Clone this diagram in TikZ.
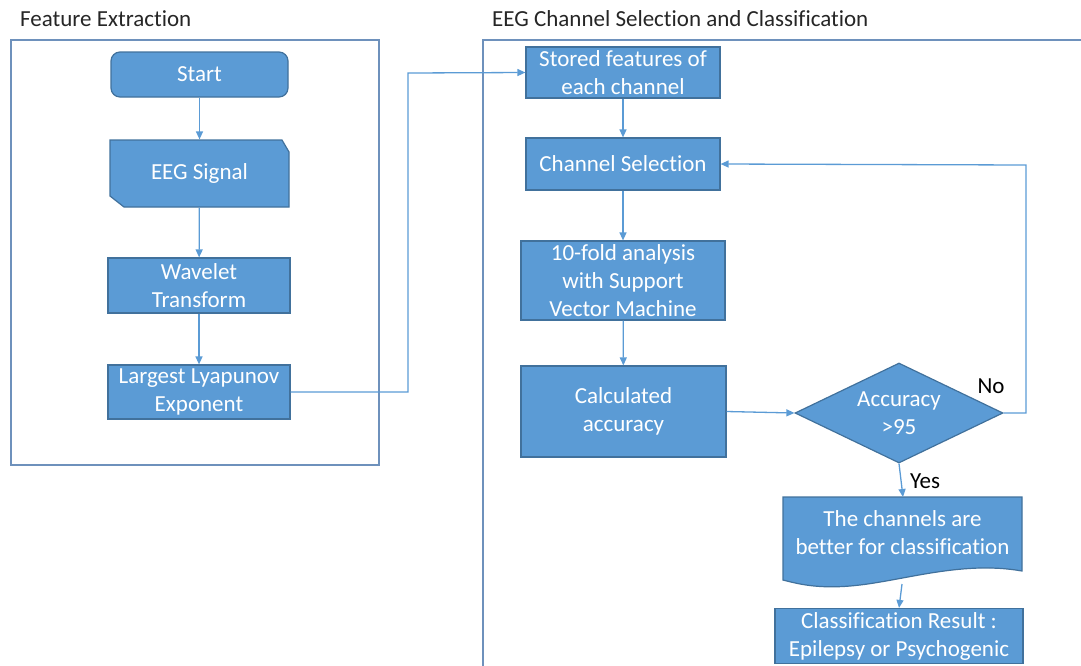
\documentclass[tikz,border=0pt]{standalone}
\usepackage{fontspec}
\setmainfont[Ligatures={NoCommon,NoRare}]{Carlito}
\usetikzlibrary{arrows.meta,shapes.geometric}
\definecolor{boxfill}{HTML}{5B9BD5}
\definecolor{boxline}{HTML}{41719C}
\definecolor{conn}{HTML}{5B9BD5}
\definecolor{panel}{RGB}{110,145,188}
\tikzset{
  box/.style={draw=boxline, fill=boxfill, line width=1.2pt, text=white, align=center, inner sep=0pt,
    font=\fontsize{23}{28}\selectfont},
  conn/.style={draw=conn, line width=1.3pt},
  arr/.style={conn, -{Triangle[length=8pt,width=7pt]}},
  lbl/.style={text=black, font=\fontsize{23}{26}\selectfont, inner sep=0pt},
  title/.style={text=black!85, font=\fontsize{23}{26}\selectfont, inner sep=0pt, anchor=west},
}
\begin{document}
\begin{tikzpicture}[x=1pt,y=-1pt]
\useasboundingbox (0,0) rectangle (1081,665);
% panels
\draw[panel, line width=1.2pt] (11,40) rectangle (379,465);
\draw[panel, line width=1.2pt] (1090,40) -- (483,40) -- (483,675);
\node[title] (t1) at (20,19) {Feature Extraction};
\node[title] (t2) at (492,19) {EEG Channel Selection and Classification};
% left nodes
\node[box, rounded corners=9pt, minimum width=177pt, minimum height=45pt] (start) at (199.5,74.5) {Start};
\path[box] (110,140) -- (282,140) -- (289,152) -- (289,207) -- (124,207) -- (110,196) -- cycle;
\node[box, draw=none, fill=none, minimum width=179pt, minimum height=67pt] (eeg) at (199.5,173.5) {EEG Signal};
\node[box, minimum width=182pt, minimum height=55pt] (wave) at (199,285.5) {Wavelet\\Transform};
\node[box, minimum width=182pt, minimum height=54pt] (lle) at (199,392) {Largest Lyapunov\\Exponent};
% right nodes
\node[box, minimum width=194pt, minimum height=51pt] (stored) at (623,72.5) {Stored features of\\each channel};
\node[box, minimum width=194pt, minimum height=52pt] (chsel) at (623,164) {Channel Selection};
\node[box, minimum width=204pt, minimum height=79pt] (svm) at (623,280.5) {10-fold analysis\\with Support\\Vector Machine};
\node[box, minimum width=205pt, minimum height=91pt] (calc) at (623.5,411.5) {Calculated\\accuracy};
\node[box, diamond, aspect=2.08, minimum width=208pt, minimum height=100pt] (acc) at (899,413) {Accuracy\\>95};
% document shape
\path[box] (783,497) -- (1022,497) -- (1022,571)
  .. controls (960,560) and (900,582) .. (850,586)
  .. controls (815,589) and (795,583) .. (783,580) -- cycle;
\node[box, draw=none, fill=none] (doc) at (902.5,533) {The channels are\\better for classification};
\coordinate (docbot) at (902,584);
\coordinate (doctop) at (903,497);
\node[box, minimum width=248pt, minimum height=55pt] (res) at (899,636) {Classification Result :\\Epilepsy or Psychogenic};
% connectors
\draw[arr] (start) -- (eeg);
\draw[arr] (eeg) -- (wave);
\draw[arr] (wave) -- (lle);
\draw[arr] (lle.east) -- (408,392) -- (408,73) -- (stored.west);
\draw[arr] (stored) -- (chsel);
\draw[arr] (chsel) -- (svm);
\draw[arr] (svm) -- (calc);
\draw[arr] (calc.east) -- (acc.west);
\draw[arr] (acc.east) -- (1026,413) -- (1026,165) -- (chsel.east);
\draw[arr] (acc.south) -- (doctop);
\draw[arr] (docbot) -- (res.north);
\node[lbl] (no) at (991,386) {No};
\node[lbl] (yes) at (925,481) {Yes};
\end{tikzpicture}
\end{document}
